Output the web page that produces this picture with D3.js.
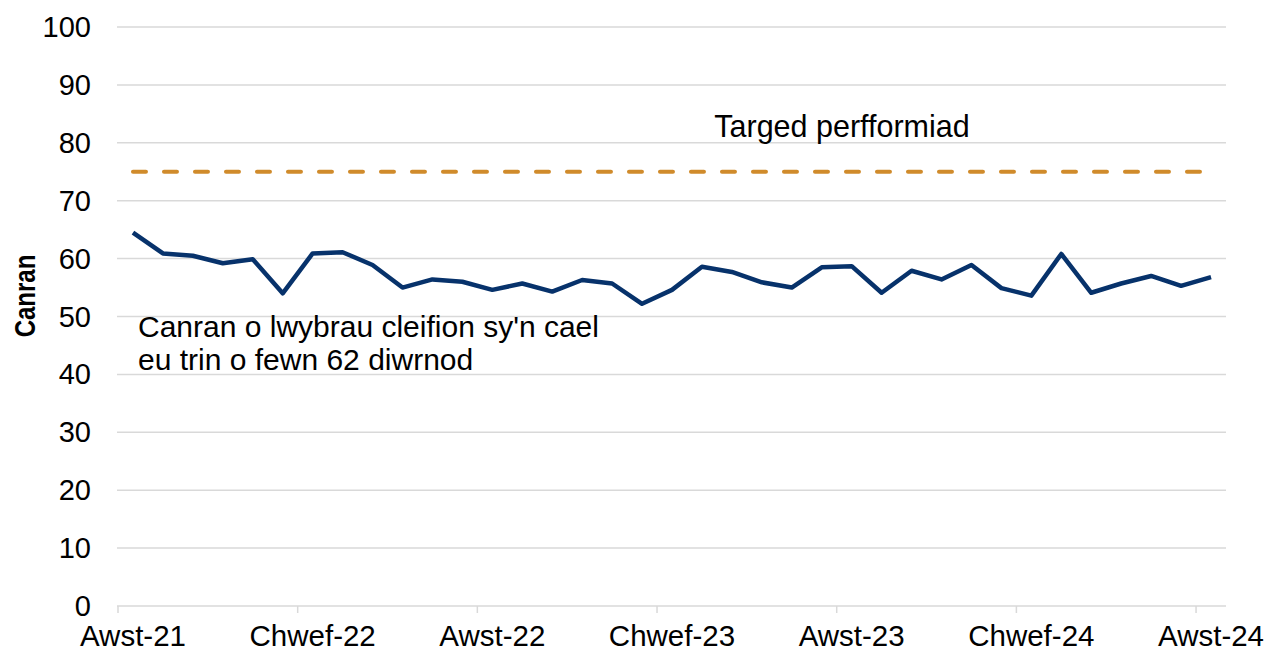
<!DOCTYPE html>
<html>
<head>
<meta charset="utf-8">
<script src="https://d3js.org/d3.v7.min.js"></script>
<style>
  body { margin: 0; background: #fff; }
  text { font-family: "Liberation Sans", Arial, sans-serif; fill: #000; }
</style>
</head>
<body>
<div id="container"></div>
<script>
const width = 1266;
const height = 651;
const margin = { top: 27, right: 40, bottom: 45, left: 118 };

// monthly categories, Aug 2021 - Aug 2024 (Welsh month names)
const months = [
  'Awst-21', 'Medi-21', 'Hyd-21', 'Tach-21', 'Rhag-21', 'Ion-22',
  'Chwef-22', 'Maw-22', 'Ebr-22', 'Mai-22', 'Meh-22', 'Gorff-22',
  'Awst-22', 'Medi-22', 'Hyd-22', 'Tach-22', 'Rhag-22', 'Ion-23',
  'Chwef-23', 'Maw-23', 'Ebr-23', 'Mai-23', 'Meh-23', 'Gorff-23',
  'Awst-23', 'Medi-23', 'Hyd-23', 'Tach-23', 'Rhag-23', 'Ion-24',
  'Chwef-24', 'Maw-24', 'Ebr-24', 'Mai-24', 'Meh-24', 'Gorff-24',
  'Awst-24'
];
const shownLabels = ['Awst-21', 'Chwef-22', 'Awst-22', 'Chwef-23', 'Awst-23', 'Chwef-24', 'Awst-24'];
const pct = [
  64.5, 60.9, 60.5, 59.2, 59.9, 54.0,
  60.9, 61.1, 58.9, 55.0, 56.4, 56.0,
  54.6, 55.7, 54.3, 56.3, 55.7, 52.2,
  54.6, 58.6, 57.7, 55.9, 55.0, 58.5,
  58.7, 54.1, 57.9, 56.4, 58.9, 54.9,
  53.6, 60.8, 54.1, 55.7, 57.0, 55.3,
  56.8
];
const target = 75;
const yTicks = [0, 10, 20, 30, 40, 50, 60, 70, 80, 90, 100];

const svg = d3.select("#container").append("svg")
  .attr("width", width)
  .attr("height", height);

const x = d3.scaleBand()
  .domain(months)
  .range([margin.left, 1226]);
const cx = d => x(d) + x.bandwidth() / 2;

const y = d3.scaleLinear()
  .domain([0, 100])
  .range([height - margin.bottom, margin.top]);

// gridlines
svg.append("g")
  .selectAll("line")
  .data(yTicks)
  .join("line")
  .attr("x1", margin.left - 1)
  .attr("x2", 1226)
  .attr("y1", d => y(d))
  .attr("y2", d => y(d))
  .attr("stroke", "#d9d9d9")
  .attr("stroke-width", 1.5);

// y tick labels
svg.append("g")
  .selectAll("text")
  .data(yTicks)
  .join("text")
  .attr("x", 91)
  .attr("y", d => y(d) + 10)
  .attr("text-anchor", "end")
  .attr("font-size", 29)
  .text(d => d);

// x tick marks (between categories) and labels
const base = y(0);
svg.append("g")
  .selectAll("line")
  .data(shownLabels)
  .join("line")
  .attr("x1", d => x(d))
  .attr("x2", d => x(d))
  .attr("y1", base)
  .attr("y2", base + 7)
  .attr("stroke", "#d9d9d9")
  .attr("stroke-width", 1.5);

svg.append("g")
  .selectAll("text")
  .data(shownLabels)
  .join("text")
  .attr("x", d => cx(d))
  .attr("y", 646)
  .attr("text-anchor", "middle")
  .attr("font-size", 29.5)
  .text(d => d);

// y axis title (squeezed a little, as in the original)
svg.append("text")
  .attr("transform", "translate(35,296) rotate(-90) scale(0.8,1)")
  .attr("text-anchor", "middle")
  .attr("font-size", 30)
  .attr("font-weight", "bold")
  .text("Canran");

// target line
svg.append("line")
  .attr("x1", cx(months[0]))
  .attr("x2", cx(months[months.length - 1]))
  .attr("y1", y(target))
  .attr("y2", y(target))
  .attr("stroke", "#d08b2b")
  .attr("stroke-width", 4)
  .attr("stroke-linecap", "round")
  .attr("stroke-dasharray", "13 18");

svg.append("text")
  .attr("x", 842)
  .attr("y", 137)
  .attr("text-anchor", "middle")
  .attr("font-size", 30.5)
  .text("Targed perfformiad");

// main series
const line = d3.line()
  .x((d, i) => cx(months[i]))
  .y(d => y(d));

svg.append("path")
  .datum(pct)
  .attr("fill", "none")
  .attr("stroke", "#07326b")
  .attr("stroke-width", 4.5)
  .attr("stroke-linejoin", "round")
  .attr("d", line);

const note = svg.append("text")
  .attr("x", 138)
  .attr("font-size", 30);
note.append("tspan").attr("x", 138).attr("y", 337).text("Canran o lwybrau cleifion sy'n cael");
note.append("tspan").attr("x", 138).attr("y", 370).text("eu trin o fewn 62 diwrnod");
</script>
</body>
</html>
